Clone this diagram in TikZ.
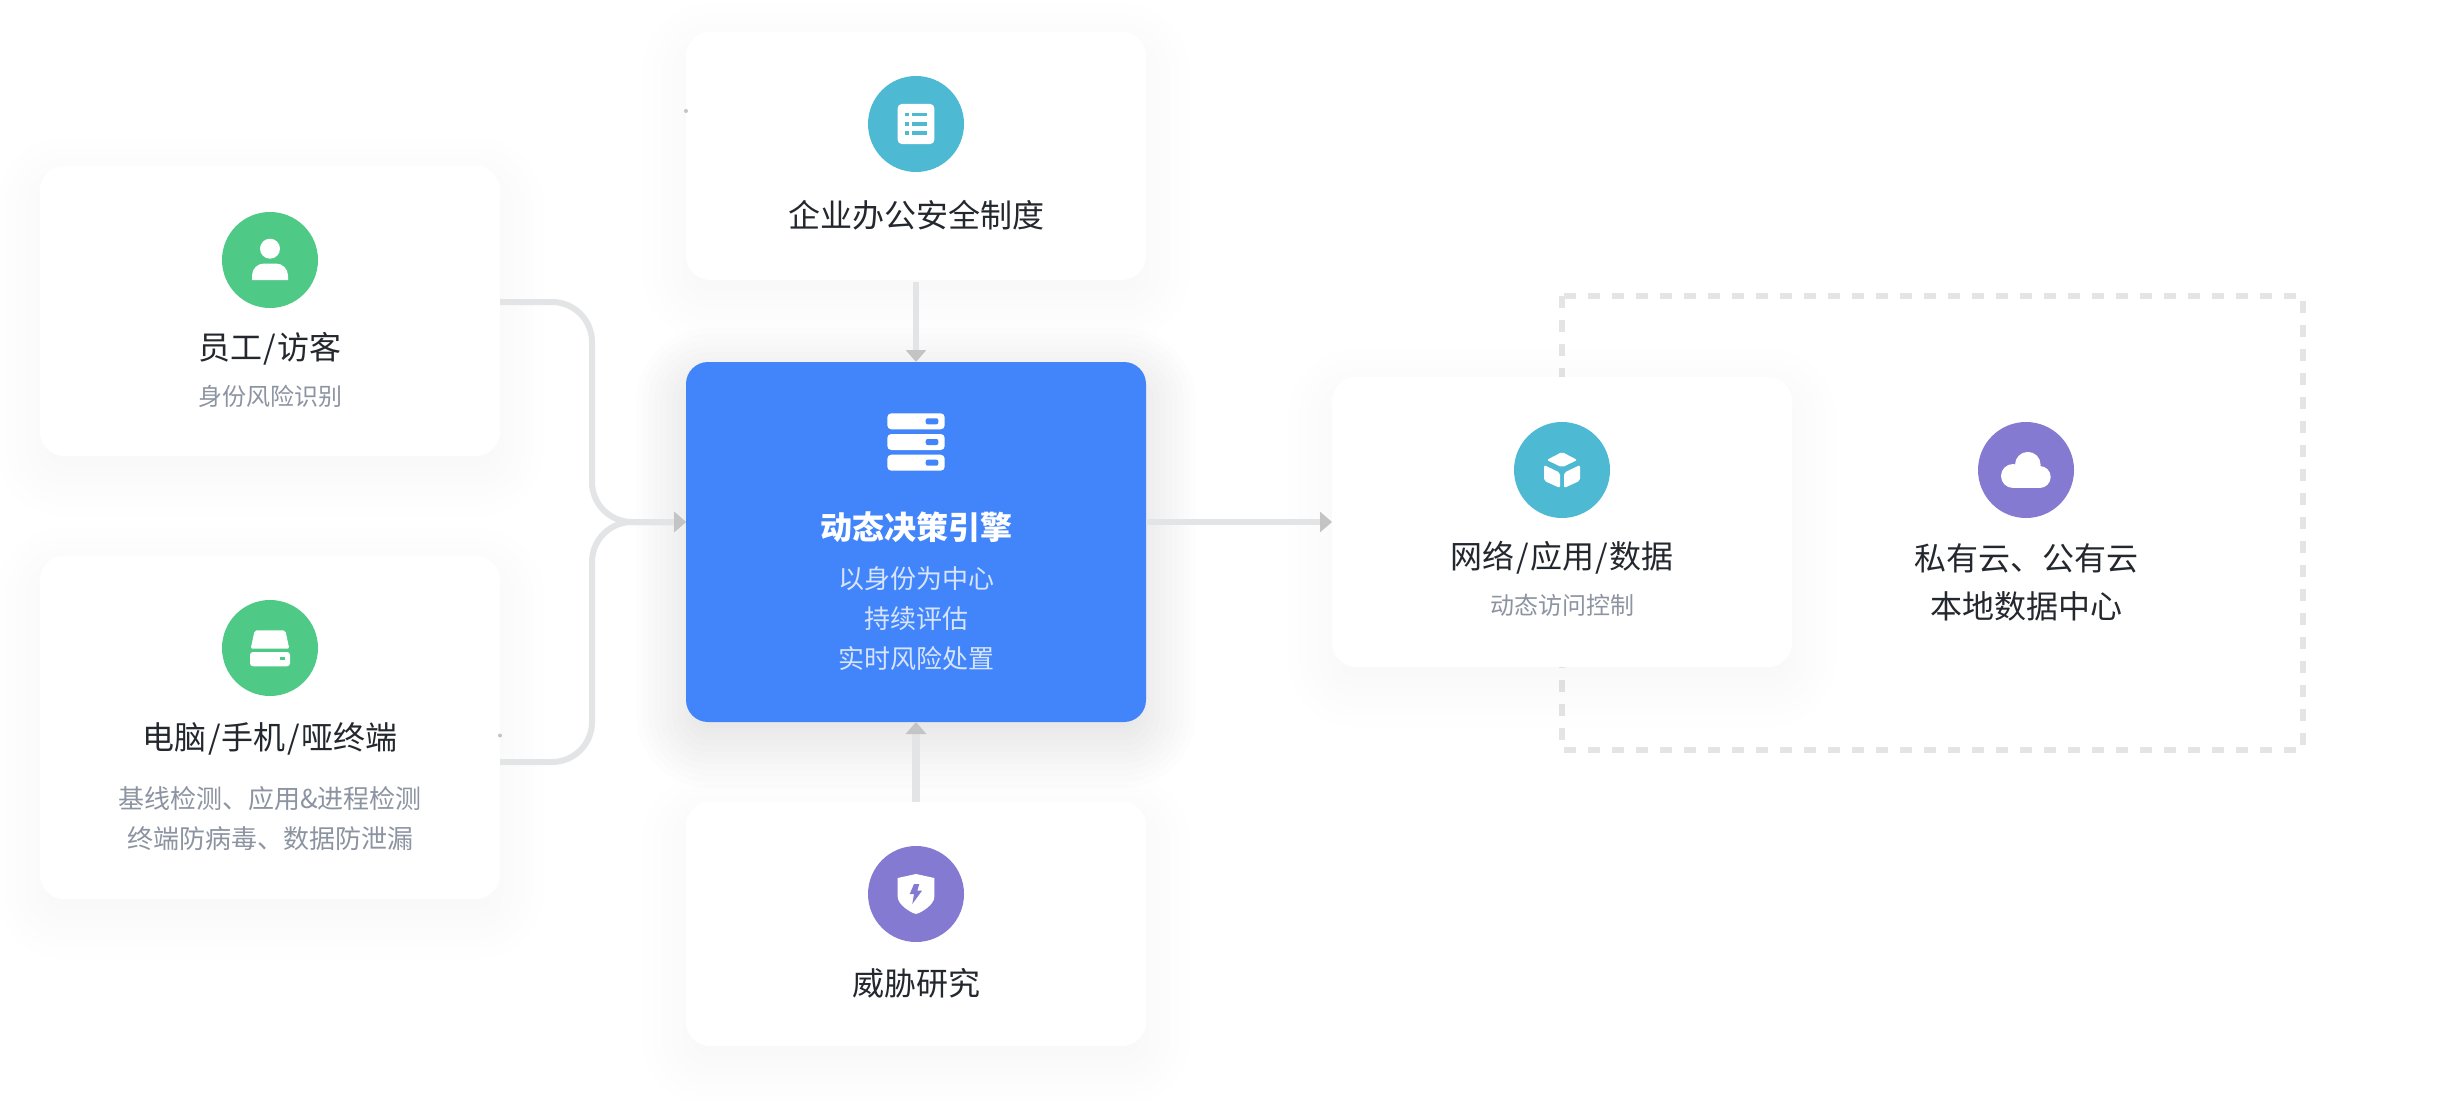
\documentclass[tikz,border=0pt]{standalone}
\usepackage{fontspec}
\setmainfont{Noto Sans CJK SC}
\usetikzlibrary{arrows.meta, positioning, shapes.geometric}
\definecolor{enginblue}{RGB}{66, 133, 251}
\definecolor{iconteal}{RGB}{77, 185, 211}
\definecolor{icongreen}{RGB}{79, 201, 134}
\definecolor{iconpurple}{RGB}{132, 122, 209}
\definecolor{linegray}{RGB}{227, 228, 230}
\definecolor{tipgray}{RGB}{196, 196, 196}
\definecolor{titleink}{RGB}{35, 39, 46}
\definecolor{subink}{RGB}{140, 148, 161}
\definecolor{paleink}{RGB}{214, 228, 254}
\tikzset{
  card/.style={rectangle, rounded corners=12pt, fill=white, minimum width=230pt,
              minimum height=#1, inner sep=0pt, outer sep=0pt},
  card/.default=125pt,
  enginecard/.style={card=180pt, rounded corners=11pt, fill=enginblue},
  iconball/.style={circle, fill=#1, minimum size=48pt, inner sep=0pt, outer sep=0pt},
  titletext/.style={font=\fontsize{16pt}{20pt}\selectfont, color=titleink, align=center, inner sep=0pt},
  subtext/.style={font=\fontsize{12pt}{15pt}\selectfont, color=subink, align=center, inner sep=0pt},
  flow/.style={-{Triangle[length=6pt, width=10pt, color=tipgray]}, line width=3pt, color=linegray},
}
% stacked fills give the soft card shadow
\newcommand{\softshadow}[6]{%
  \foreach \g in {#6}{
    \pgfmathsetmacro{\rad}{12+\g}
    \fill[black, opacity=#5, rounded corners=\rad pt]
      ({#1-2*\g},{#2-2*\g+16}) rectangle ({#3+2*\g},{#4+2*\g+16});
  }
}
\newcommand{\slashgap}{\kern.7pt/\kern.7pt}
\begin{document}
\begin{tikzpicture}[x=0.5pt, y=-0.5pt]
  \useasboundingbox (0,0) rectangle (2440,1102);
  \fill[white] (0,0) rectangle (2440,1102);
  % Dashed area
  \draw[linegray, line width=3pt, dash pattern=on 6pt off 6pt] (1562,296) rectangle (2303,750);
  % Shadows
  \softshadow{40}{166}{500}{456}{0.004}{-8,-3,...,22}
  \softshadow{40}{556}{500}{899}{0.004}{-8,-3,...,22}
  \softshadow{686}{32}{1146}{280}{0.004}{-8,-3,...,22}
  \softshadow{686}{362}{1146}{722}{0.008}{-8,-5,...,25}
  \softshadow{686}{802}{1146}{1046}{0.004}{-8,-3,...,22}
  \softshadow{1332}{377}{1792}{667}{0.004}{-8,-3,...,22}
  % Cards
  \node[card=145pt] (staff) at (270,311) {};
  \node[card=171.5pt] (device) at (270,727.5) {};
  \node[card=124pt] (policy) at (916,156) {};
  \node[enginecard] (engine) at (916,542) {};
  \node[card=122pt] (threat) at (916,924) {};
  \node[card=145pt] (network) at (1562,522) {};
  % Connectors
  \coordinate (staffout) at (500,302);
  \coordinate (deviceout) at (500,762);
  \coordinate (enginein) at (686,522);
  \coordinate (engineout) at (1146,522);
  \draw[flow, rounded corners=20pt] (staffout) -- (592,302) -- (592,522) -- (enginein);
  \draw[flow, rounded corners=20pt] (deviceout) -- (592,762) -- (592,522) -- (enginein);
  \draw[flow, shorten <=1pt] (policy.south) -- (engine.north);
  \draw[flow, line width=4pt] (threat.north) -- (engine.south);
  \draw[flow] (engineout) -- (network.west);
  % Stray dots
  \fill[tipgray] (500,735.5) circle (1pt);
  \fill[tipgray] (686,111) circle (1pt);
  % Icon balls
  \node[iconball=icongreen] (staffball) at (270,260) {};
  \node[iconball=icongreen] (deviceball) at (270,648) {};
  \node[iconball=iconteal] (policyball) at (916,124) {};
  \node[iconball=iconpurple] (threatball) at (916,894) {};
  \node[iconball=iconteal] (networkball) at (1562,470) {};
  \node[iconball=iconpurple] (cloudball) at (2026,470) {};
  % Person
  \begin{scope}[shift={(staffball)}]
    \fill[white] (0,-11.3) circle (5pt);
    \fill[white] (-18,20) [rounded corners=6pt] -- (-18,3.5) -- (18,3.5) [sharp corners] -- (18,20) -- cycle;
  \end{scope}
  % Drive
  \begin{scope}[shift={(deviceball)}]
    \fill[white, rounded corners=1pt] (-15.3,-17.7) -- (15.3,-17.7) -- (19.3,0.7) -- (-19.3,0.7) -- cycle;
    \fill[white, rounded corners=1.5pt] (-20,4) rectangle (20,18.3);
    \fill[icongreen] (10,9.3) rectangle (15,12);
  \end{scope}
  % List
  \begin{scope}[shift={(policyball)}]
    \fill[white, rounded corners=2pt] (-18.3,-20) rectangle (18.3,20);
    \foreach \ry in {-9.3,0,9}{
      \fill[iconteal] (-11,\ry-1.8) rectangle (-7,\ry+1.8);
      \fill[iconteal] (-3.7,\ry-1.8) rectangle (11.3,\ry+1.8);
    }
  \end{scope}
  % Shield
  \begin{scope}[shift={(threatball)}]
    \fill[white] (0,-20) -- (18.3,-16) -- (18.3,3) .. controls (18.3,10) and (7,18) .. (0,20)
      .. controls (-7,18) and (-18.3,10) .. (-18.3,3) -- (-18.3,-16) -- cycle;
    \fill[iconpurple] (-2,-10) -- (3.3,-10) -- (1.3,-3.3) -- (6,-3.3) -- (-3.7,10) -- (-2,0) -- (-6.3,0) -- cycle;
  \end{scope}
  % Cube
  \begin{scope}[shift={(networkball)}]
    \fill[white, rounded corners=1pt] (0,-18) -- (15.3,-10) -- (0,-2.7) -- (-15.3,-10) -- cycle;
    \fill[white, rounded corners=1pt] (-18,-5) -- (-2,2.7) -- (-2,18) -- (-18,10.7) -- cycle;
    \fill[white, rounded corners=1pt] (18,-5) -- (2,2.7) -- (2,18) -- (18,10.7) -- cycle;
  \end{scope}
  % Cloud
  \begin{scope}[shift={(cloudball)}]
    \fill[white] (-13,6) circle (6pt);
    \fill[white] (1.8,-5.3) circle (6.4pt);
    \fill[white] (13.7,7) circle (5.5pt);
    \fill[white] (-13,5) rectangle (13.7,18);
  \end{scope}
  % Server
  \coordinate (rack) at (916,442);
  \begin{scope}[shift={(rack)}]
    \foreach \ry in {-20.7,0,20.7}{
      \fill[white, rounded corners=2pt] (-28.7,\ry-8) rectangle (28.7,\ry+8);
      \fill[enginblue, rounded corners=1pt] (9.7,\ry-3) rectangle (22.3,\ry+3);
    }
  \end{scope}
  % Labels
  \node[titletext] (stafftitle) at (270,349) {员工\slashgap 访客};
  \node[subtext] (staffsub) at (270,396) {身份风险识别};
  \node[titletext] (devicetitle) at (270,738.5) {电脑\slashgap 手机\slashgap 哑终端};
  \node[subtext, font=\fontsize{13pt}{20pt}\selectfont] (devicesub) at (270,819) {基线检测、应用\&进程检测\\终端防病毒、数据防泄漏};
  \node[titletext] (policytitle) at (916,215) {企业办公安全制度};
  \node[titletext, color=white, font=\fontsize{16pt}{20pt}\selectfont\bfseries] (enginetitle) at (916,527) {动态决策引擎};
  \node[subtext, color=paleink, font=\fontsize{13pt}{20pt}\selectfont] (enginesub) at (916,619) {以身份为中心\\持续评估\\实时风险处置};
  \node[titletext] (threattitle) at (916,983) {威胁研究};
  \node[titletext] (networktitle) at (1562,558) {网络\slashgap 应用\slashgap 数据};
  \node[subtext] (networksub) at (1562,605) {动态访问控制};
  \node[titletext, font=\fontsize{16pt}{24pt}\selectfont] (cloudtitle) at (2026,582.5) {私有云、公有云\\本地数据中心};
\end{tikzpicture}
\end{document}
